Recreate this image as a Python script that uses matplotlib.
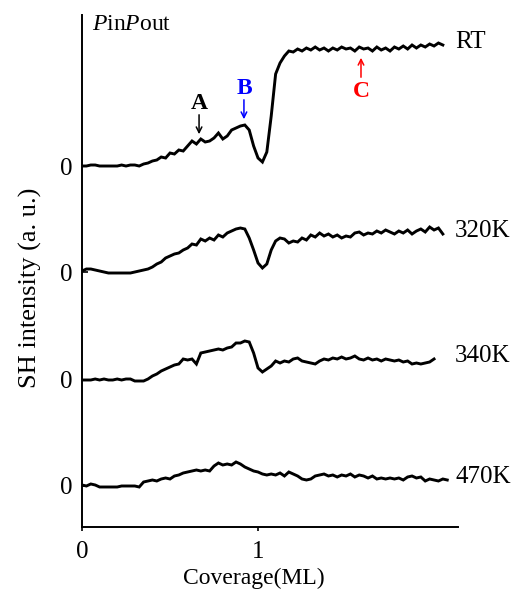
import numpy as np
import matplotlib
matplotlib.use('Agg')
from matplotlib import pyplot as plt

plt.rcParams['font.family'] = 'Liberation Serif'
plt.rcParams['mathtext.fontset'] = 'custom'
plt.rcParams['mathtext.rm'] = 'Liberation Serif'
plt.rcParams['mathtext.it'] = 'Liberation Serif:italic'

step = 0.025  # ML between samples

# SH intensity (a.u.), sampled every 0.025 ML from 0
sh_rt = [0, 0, 1, 1, 0, 0, 0, 0, 0, 1, 0, 1, 1, 0,
         2, 3, 5, 6, 9, 8, 13, 12, 16, 15, 20, 25, 22, 27, 24, 25, 28, 33, 27, 30,
         36, 38, 40, 41, 36, 20,
         8, 4, 14, 50, 92, 103, 110, 115, 114, 117, 115, 118, 116, 119, 116, 118,
         115, 118, 116, 119, 117, 118, 115, 119, 117, 118, 115, 119, 116, 118,
         115, 119, 117, 120, 117, 121, 118, 121, 119, 122, 120, 123, 121]
sh_320 = [1, 3, 3, 2, 1, 0, -1, -1, -1, -1, -1, -1, 0, 1,
          2, 3, 5, 8, 10, 14, 16, 18, 19, 22, 24, 28, 27, 33, 31, 34, 32, 37, 35, 39,
          41, 43, 44, 43, 34, 22,
          9, 4, 8, 22, 31, 34, 33, 29, 31, 30, 34, 32, 37, 35, 39, 36, 38, 35, 37, 34,
          36, 35, 39, 40, 37, 39, 38, 41, 39, 42, 40, 38, 41, 39, 42, 38, 41, 43, 40,
          45, 42, 44, 38]
sh_340 = [0, 0, 0, 1, 0, 1, 0, 0, 1, 0, 1, 1, -1, -1,
          -1, 1, 4, 6, 9, 11, 13, 15, 16, 21, 20, 21, 16, 27, 28, 29, 30, 31, 30, 32,
          33, 37, 37, 39, 38, 27,
          12, 8, 11, 14, 19, 17, 19, 18, 21, 22, 19, 18, 17, 16, 19, 21, 20, 22, 21, 23,
          21, 22, 24, 21, 20, 22, 20, 21, 19, 21, 20, 19, 20, 18, 19, 16, 17, 16, 17,
          18, 21]
sh_470 = [1, 0, 2, 1, -1, -1, -1, -1, -1, 0, 0, 0, 0, -1,
          4, 5, 6, 5, 7, 8, 7, 10, 11, 13, 14, 15, 16, 15, 16, 15, 20, 23, 21, 22,
          21, 24, 22, 19, 17, 15,
          14, 12, 11, 12, 11, 13, 10, 14, 12, 10, 7, 6, 7, 10, 11, 12, 10, 11, 9, 11,
          10, 12, 9, 11, 10, 8, 10, 7, 8, 7, 8, 7, 8, 6, 9, 10, 8, 9, 5, 7, 6, 5, 7, 6]

labels = ['RT', '320K', '340K', '470K']
offsets = [320, 214, 106, 0]
series = [sh_rt, sh_320, sh_340, sh_470]

fig = plt.figure(figsize=(5.24, 5.91), dpi=100)
ax = fig.add_axes([0.1565, 0.1083, 0.7175, 0.8663])

for lab, off, sh in zip(labels, offsets, series):
    cov = np.arange(len(sh)) * step
    y = np.array(sh, dtype=float) + off
    ax.plot(cov, y, color='black', lw=2.1, solid_joinstyle='miter')
    ax.text(2.12, y[-1] + 3, lab, fontsize=18, ha='left', va='center')

ax.set_xlim(0, 2.136)
ax.set_ylim(-41, 471)
for s in ['top', 'right']:
    ax.spines[s].set_visible(False)
for s in ['left', 'bottom']:
    ax.spines[s].set_linewidth(1.4)

ax.set_yticks(offsets)
ax.set_yticklabels(['0'] * 4, fontsize=18)
ax.tick_params(axis='y', direction='in', length=4, width=1.2, pad=7)
ax.set_xticks([0, 1])
ax.set_xticklabels(['0', '1'], fontsize=18)
ax.tick_params(axis='x', direction='out', length=3, width=1.2, pad=7)

ax.text(0.057, 462, '$P$in$P$out', fontsize=17, ha='left', va='center')

# markers A, B, C
ax.text(0.665, 383, 'A', fontsize=17, fontweight='bold', ha='center', va='center')
ax.annotate('', xy=(0.665, 349), xytext=(0.665, 374),
            arrowprops=dict(arrowstyle='->', color='black', lw=1.1))
ax.text(0.92, 398, 'B', fontsize=17, fontweight='bold', ha='center', va='center', color='#0000ff')
ax.annotate('', xy=(0.92, 364), xytext=(0.92, 389),
            arrowprops=dict(arrowstyle='->', color='#0000ff', lw=1.1))
ax.text(1.585, 395, 'C', fontsize=17, fontweight='bold', ha='center', va='center', color='#ff0000')
ax.annotate('', xy=(1.585, 431), xytext=(1.585, 406),
            arrowprops=dict(arrowstyle='->', color='#ff0000', lw=1.1))

fig.text(30 / 524, 1 - 288 / 591, 'SH intensity (a. u.)', fontsize=19, rotation=90,
         ha='center', va='center')
fig.text(254 / 524, 1 - 578 / 591, 'Coverage(ML)', fontsize=17, ha='center', va='center')

fig.savefig('out.png', dpi=100)
